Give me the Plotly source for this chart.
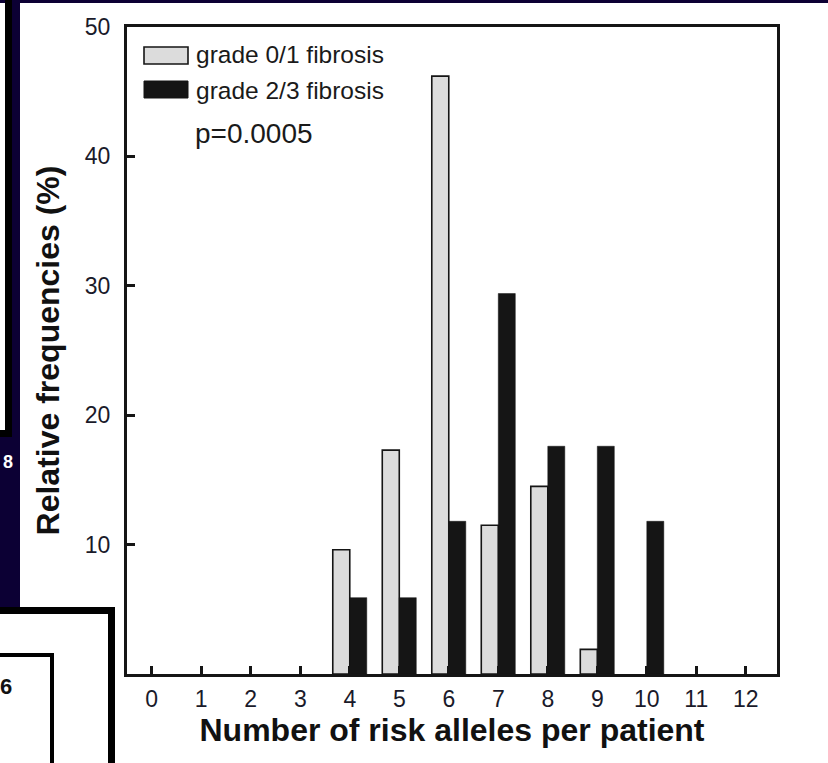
import plotly.graph_objects as go

# ---- data ----
alleles = [4, 5, 6, 7, 8, 9, 10]
grade01 = [9.6, 17.3, 46.2, 11.5, 14.5, 1.9, None]
grade23 = [5.9, 5.9, 11.8, 29.4, 17.6, 17.6, 11.8]
x_ticks = list(range(0, 13))
y_ticks = [10, 20, 30, 40, 50]
series_names = ["grade 0/1 fibrosis", "grade 2/3 fibrosis"]
p_text = "p=0.0005"

W, H = 828, 763
L, R, T, B = 127, 777, 27, 674  # plot area in pixels
FONT = "Liberation Sans, Arial, Helvetica, sans-serif"
NAVY = "#0c0034"
INK = "#151515"
GRAY = "#dcdcdc"


def px(x):
    return (x - L) / (R - L)


def py(y):
    return (B - y) / (B - T)


fig = go.Figure()
fig.add_trace(go.Bar(x=alleles, y=grade01, name=series_names[0],
                     marker=dict(color=GRAY, line=dict(color=INK, width=1.6))))
fig.add_trace(go.Bar(x=alleles, y=grade23, name=series_names[1],
                     marker=dict(color=INK, line=dict(color=INK, width=0.5))))

shapes = []


def rect(x0, y0, x1, y1, color, line=None):
    d = dict(type="rect", xref="paper", yref="paper",
             x0=px(x0), x1=px(x1), y0=py(y1), y1=py(y0),
             fillcolor=color, layer="above")
    if line:
        d["line"] = dict(color=line[0], width=line[1])
    else:
        d["line"] = dict(width=0)
    shapes.append(d)


# slide decorations around the figure
rect(0, 0, W, 3, NAVY)
rect(12, 0, 20, 437, NAVY)
rect(5, 0, 12, 437, "#000000")
rect(0, 430, 12, 437, "#000000")
rect(0, 437, 20, 607, NAVY)
rect(0, 607, 115, 614, "#000000")
rect(108, 607, 115, H + 5, "#000000")
rect(0, 653, 54, 657, "#000000")
rect(50, 653, 54, H + 5, "#000000")

# legend swatches
rect(144, 47, 188, 64, GRAY, (INK, 1.6))
rect(144, 81, 188, 98, INK, (INK, 1))

annotations = [
    dict(text=series_names[0], x=px(194), y=py(55), xanchor="left", yanchor="middle",
         font=dict(size=24.5, color="#1a1a1a", family=FONT)),
    dict(text=series_names[1], x=px(194), y=py(90), xanchor="left", yanchor="middle",
         font=dict(size=24.5, color="#1a1a1a", family=FONT)),
    dict(text=p_text, x=px(193), y=py(133), xanchor="left", yanchor="middle",
         font=dict(size=28, color="#1a1a1a", family=FONT)),
    dict(text="<b>8</b>", x=px(1), y=py(462), xanchor="left", yanchor="middle",
         font=dict(size=18, color="white", family=FONT)),
    dict(text="<b>6</b>", x=px(14), y=py(686), xanchor="right", yanchor="middle",
         font=dict(size=22, color="#111111", family=FONT)),
]
for a in annotations:
    a.update(xref="paper", yref="paper", showarrow=False)

fig.update_layout(
    width=W, height=H,
    margin=dict(l=L, r=W - R, t=T, b=H - B, pad=0),
    paper_bgcolor="white", plot_bgcolor="white",
    barmode="group", bargap=0.313, bargroupgap=0,
    showlegend=False,
    shapes=shapes, annotations=annotations,
    font=dict(family=FONT, color="#1a1a1a"),
)
fig.update_xaxes(
    range=[-0.5, 12.63], tickvals=x_ticks, ticktext=[str(v) for v in x_ticks],
    ticks="inside", ticklen=8, tickwidth=2.5, tickcolor=INK,
    showline=True, linewidth=3, linecolor=INK, mirror=True,
    showgrid=False, zeroline=False,
    tickfont=dict(size=23, color="#1a1a2a", family=FONT),
    ticklabelstandoff=2,
    title=dict(text="<b>Number of risk alleles per patient</b>", standoff=9,
               font=dict(size=32, color="#111111", family=FONT)),
)
fig.update_yaxes(
    range=[0, 50], tickvals=y_ticks, ticktext=[str(v) for v in y_ticks],
    ticks="inside", ticklen=8, tickwidth=2.5, tickcolor=INK,
    showline=True, linewidth=3, linecolor=INK, mirror=True,
    showgrid=False, zeroline=False,
    tickfont=dict(size=23, color="#1a1a2a", family=FONT),
    ticklabelstandoff=9,
    title=dict(text="<b>Relative frequencies (%)</b>", standoff=16,
               font=dict(size=32, color="#111111", family=FONT)),
)

fig.write_html("out.html")
